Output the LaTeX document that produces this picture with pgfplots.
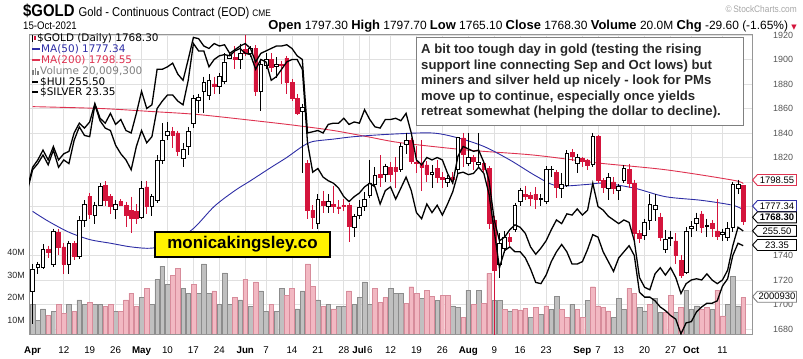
\documentclass[border=0pt]{standalone}
\usepackage{pgfplots}
\pgfplotsset{compat=1.18}
\usepackage{pgfplotstable}
\usepackage{fontspec}
\setmainfont{Liberation Sans}
\newfontfamily\dejavu{DejaVu Sans}
\newfontfamily\narrow[FakeStretch=0.88]{Liberation Sans}

\definecolor{cRed}{RGB}{212,20,60}
\definecolor{cMA200}{RGB}{222,50,80}
\definecolor{cMA50}{RGB}{45,45,165}
\definecolor{volG}{RGB}{192,192,192}
\definecolor{volGe}{RGB}{140,140,140}
\definecolor{volP}{RGB}{242,184,194}
\definecolor{volPe}{RGB}{215,140,155}
\definecolor{gridC}{RGB}{224,224,224}
\definecolor{frameC}{RGB}{150,150,150}
\definecolor{tickC}{RGB}{85,85,85}
\definecolor{boxC}{RGB}{128,128,128}
\definecolor{txtC}{RGB}{40,40,40}

\pgfplotsset{
  chartgeom/.style={at={(29bp,24bp)}, anchor=south west, scale only axis, width=723bp, height=300bp, xmin=-0.7, xmax=138.7},
  priceaxis/.style={chartgeom, ymin=1675.9, ymax=1920.8, hide axis},
  ebar/.style n args={2}{draw=none, no markers, error bars/.cd, y dir=minus, y explicit, error mark=none, error bar style={draw=#1, line width=#2}},
}

% daily OHLC, k = trading day from 1 Apr 2021
\pgfplotstableread{
k O H L C
0 1711 1733 1684 1729
1 1730 1735 1725 1733
2 1730 1749 1729 1745
3 1745 1748 1738 1743
4 1733 1762 1731 1760
5 1759 1762 1740 1747
6 1747 1750 1725 1733
7 1733 1752 1725 1750
8 1750 1752 1736 1739
9 1739 1772 1737 1769
10 1769 1785 1763 1782
11 1788 1791 1770 1774
12 1773 1784 1766 1781
13 1781 1799 1780 1796
14 1797 1801 1780 1785
15 1788 1790 1774 1780
16 1778 1785 1770 1782
17 1784 1786 1780 1781
18 1781 1784 1763 1773
19 1777 1788 1758 1770
20 1776 1782 1766 1770
21 1771 1801 1770 1795
22 1796 1801 1774 1780
23 1780 1790 1772 1788
24 1785 1822 1783 1818
25 1818 1848 1815 1834
26 1838 1849 1834 1841
27 1841 1845 1828 1838
28 1840 1842 1821 1825
29 1819 1832 1812 1827
30 1829 1845 1822 1841
31 1848 1871 1844 1868
32 1867 1872 1856 1869
33 1874 1886 1856 1881
34 1871 1888 1867 1883
35 1880 1886 1872 1878
36 1878 1889 1872 1886
37 1882 1905 1880 1898
38 1901 1906 1900 1903
39 1902 1911 1892 1900
40 1900 1913 1892 1905
41 1908 1920 1903 1905
42 1905 1911 1902 1909
43 1909 1912 1870 1874
44 1874 1900 1858 1896
45 1895 1905 1892 1900
46 1900 1905 1890 1894
47 1894 1902 1885 1896
48 1896 1899 1880 1895
49 1901 1903 1872 1881
50 1881 1884 1866 1868
51 1868 1872 1855 1856
52 1858 1864 1807 1861
53 1815 1818 1770 1777
54 1777 1781 1762 1771
55 1766 1790 1762 1786
56 1784 1793 1775 1781
57 1780 1790 1775 1784
58 1782 1797 1775 1780
59 1779 1785 1774 1778.5
60 1781 1786 1776 1780
61 1781 1783 1751 1764
62 1763 1774 1755 1772
63 1773 1785 1770 1779
64 1780 1792 1776 1786
65 1789 1818 1787 1799
66 1798 1812 1796 1805
67 1806 1822 1796 1804
68 1806 1815 1800 1813
69 1812 1816 1800 1806
70 1812 1820 1795 1809
71 1810 1832 1808 1829
72 1831 1840 1823 1834
73 1834 1836 1815 1817
74 1816 1829 1807 1815
75 1815 1834 1793 1812
76 1814 1817 1800 1806
77 1806 1814 1795 1808
78 1811 1818 1799 1804
79 1804 1808 1795 1802
80 1800 1806 1796 1803
81 1804 1808 1798 1802
82 1810 1837 1805 1836
83 1836 1840 1812 1823
84 1815 1840 1813 1820
85 1820 1822 1810 1817
86 1814 1840 1812 1816
87 1815 1818 1808 1810
88 1811 1813 1762 1766
89 1769 1772 1675 1728
90 1733 1758 1722 1750
91 1746 1760 1742 1755
92 1755 1758 1748 1752
93 1761 1783 1759 1781
94 1784 1795 1780 1793
95 1790 1797 1785 1788
96 1789 1792 1780 1787
97 1790 1796 1778 1786
98 1786 1790 1780 1787
99 1784 1813 1782 1810
100 1810 1813 1804 1810.5
101 1808 1810 1787 1796
102 1795 1807 1787 1798
103 1797 1826 1796 1823
104 1824 1827 1817 1821
105 1815 1823 1807 1820
106 1819 1820 1812 1817
107 1818 1819 1810 1814
108 1814 1840 1812 1837
109 1837 1838 1799 1801
110 1801 1803 1791 1796
111 1795 1807 1785 1804
112 1800 1804 1790 1795
113 1793 1798 1785 1796
114 1801 1814 1799 1811
115 1810 1815 1795 1799
116 1799 1802 1752 1758
117 1758 1761 1750 1754
118 1756 1770 1753 1767
119 1769 1790 1761 1782
120 1778 1790 1768 1781
121 1771 1775 1752 1755
122 1745 1761 1742 1753
123 1754 1760 1748 1755
124 1752 1758 1733 1740
125 1736 1740 1722 1724
126 1726 1763 1725 1760
127 1762 1768 1755 1764
128 1766 1775 1760 1770
129 1774 1776 1758 1763
130 1764 1770 1755 1764.5
131 1766 1769 1755 1762
132 1760 1786 1753 1756
133 1757 1762 1752 1759
134 1755 1767 1752 1762
135 1763 1800 1759 1798
136 1795 1802 1790 1797.9
137 1797.3 1797.7 1765.1 1768.3
}\gold

% volume in millions, u=1 up day (grey), u=0 down day (pink)
\pgfplotstableread{
k v u
0 17 1
1 10 1
2 15 1
3 12 0
4 14 1
5 17 0
6 13 0
7 17 1
8 14 0
9 19 1
10 17 1
11 18 0
12 17 1
13 17 1
14 16 0
15 17 0
16 14 1
17 14 0
18 19 0
19 22 0
20 16 0
21 20 1
22 24 0
23 17 1
24 28 1
25 34 1
26 26 1
27 30 0
28 33 0
29 24 1
30 22 1
31 26 0
32 22 1
33 35 1
34 22 1
35 23 0
36 17 1
37 31 1
38 17 1
39 20 0
40 19 1
41 28 0
42 16 1
43 27 0
44 23 1
45 14 1
46 17 0
47 14 1
48 24 1
49 21 0
50 24 0
51 15 1
52 23 1
53 35 0
54 25 0
55 19 1
56 16 0
57 17 1
58 15 0
59 16 1
60 16 1
61 23 0
62 17 1
63 20 1
64 27 1
65 17 1
66 24 0
67 18 0
68 20 0
69 24 1
70 22 1
71 21.9 1
72 17.4 0
73 24.8 0
74 21.9 0
75 19.6 1
76 23.3 0
77 20.4 0
78 18.9 1
79 21.1 0
80 21.1 0
81 16.3 1
82 15.6 1
83 11.1 0
84 23.3 1
85 17.0 0
86 23.3 1
87 17.4 0
88 30.7 0
89 18.9 1
90 18.9 1
91 14.8 0
92 14.1 1
93 14.8 0
94 14.5 0
95 15.1 0
96 11.1 1
97 15.6 0
98 12.6 1
99 16.3 0
100 14.8 1
101 20.4 1
102 14.8 0
103 11.1 0
104 17.0 1
105 14.8 0
106 11.1 0
107 18.9 1
108 24.8 0
109 16.3 0
110 15.6 0
111 14.1 0
112 11.1 1
113 19.6 1
114 14.8 1
115 24.1 0
116 21.9 0
117 15.6 1
118 14.1 1
119 17.0 0
120 19.6 1
121 13.3 1
122 13.3 0
123 21.1 0
124 13.3 1
125 15.6 0
126 23.3 1
127 14.8 1
128 16.3 1
129 14.8 0
130 15.6 0
131 14.8 1
132 23.3 0
133 11.9 0
134 17.0 1
135 29.3 1
136 16.3 1
137 20.0 0
}\vol

% overlays (HUI = A, SILVER = B) in price-scale units as drawn
\pgfplotstableread{
k A B
-1 1795 1793
0 1812 1810
1 1818 1815
2 1826 1822
3 1818 1814
4 1829 1826
5 1818 1812
6 1823 1818
7 1825 1815
8 1840 1834
9 1848 1845
10 1844 1838
11 1849 1837
12 1864 1863
13 1852 1850
14 1848 1844
15 1856 1842
16 1847 1830
17 1851 1823
18 1842 1818
19 1840 1810
20 1856 1829
21 1874 1842
22 1860 1832
23 1863 1837
24 1892 1860
25 1892 1866
26 1894 1871
27 1897 1871
28 1888 1866
29 1883 1863
30 1900 1883
31 1918 1913
32 1917 1907
33 1911 1907
34 1909 1894
35 1913 1900
36 1911 1903
37 1912 1904
38 1905 1903
39 1908 1907
40 1911 1909
41 1913 1905
42 1909 1904
43 1898 1892
44 1905 1900
45 1907 1898
46 1909 1883
47 1911 1886
48 1911 1892
49 1912 1898
50 1909 1900
51 1903 1900
52 1900 1892
53 1840 1832
54 1841 1808
55 1842 1811
56 1840 1804
57 1847 1801
58 1848 1799
59 1848 1795
60 1852 1788
61 1847 1784
62 1849 1788
63 1848 1791
64 1859 1796
65 1851 1799
66 1845 1796
67 1844 1782
68 1851 1793
69 1851 1796
70 1852 1786
71 1850 1795
72 1856 1804
73 1840 1793
74 1818 1775
75 1814 1770
76 1820 1782
77 1818 1775
78 1820 1781
79 1818 1773
80 1807 1782
81 1799 1792
82 1821 1807
83 1829 1808
84 1827 1806
85 1825 1807
86 1826 1812
87 1816 1807
88 1801 1790
89 1769 1760
90 1752 1730
91 1755 1744
92 1761 1747
93 1765 1743
94 1763 1743
95 1758 1738
96 1747 1729
97 1741 1718
98 1746 1717
99 1752 1724
100 1761 1735
101 1769 1743
102 1766 1749
103 1774 1743
104 1773 1733
105 1778 1733
106 1773 1735
107 1777 1745
108 1799 1757
109 1780 1755
110 1777 1743
111 1772 1735
112 1769 1727
113 1766 1738
114 1769 1743
115 1767 1748
116 1752 1740
117 1722 1710
118 1714 1706
119 1712 1706
120 1725 1703
121 1730 1698
122 1724 1695
123 1730 1691
124 1722 1688
125 1709 1676
126 1717 1685
127 1720 1686
128 1721 1694
129 1720 1698
130 1725 1701
131 1720 1701
132 1717 1703
133 1720 1715
134 1728 1721
135 1748 1740
136 1763 1750
137 1760 1748
}\lines

\pgfplotstableread{
k P
0 1776
3 1768
7 1759
11 1753
15 1750
19 1747
23 1746
27 1751
31 1762
35 1780
39 1793
42 1801
46 1812
49 1820
52 1829
54 1833
58 1835
62 1837
69 1839
77 1840
82 1836
87 1829
92 1818
97 1805
101 1797
107 1798
110 1799
116 1795
122 1788
129 1785
135 1781
137 1777.3
}\mafifty

\pgfplotstableread{
k P
0 1861.5
13 1860
23 1857.5
32 1855
45 1849
51 1846
58 1842
64.5 1837
71 1832
84 1826
96.5 1822
109 1815.5
122 1810
135 1801.5
137 1798.6
}\matwohundred

\newcommand{\pricetag}[4]{%
  \draw[draw=#2, fill=white, line width=0.9bp] (752.5,{358-#1}) -- (757.5,{358-#1+5.5}) -- (796.5,{358-#1+5.5}) -- (796.5,{358-#1-5.5}) -- (757.5,{358-#1-5.5}) -- cycle;
  \node[inner sep=0pt, font=\fontsize{9.5}{10}\selectfont#4] at (777,{358-#1}) {#3};}

\begin{document}
\begin{tikzpicture}[x=1bp,y=1bp]
\useasboundingbox (0,0) rectangle (803,358);

% grid and tick labels
\begin{axis}[chartgeom, ymin=1675.9, ymax=1920.8,
  axis line style={draw=none}, tick style={draw=none},
  grid=major, major grid style={draw=gridC, line width=0.7bp},
  xtick={0,6,11,16,21,26,31,36,41,45,50,55,60,63,65,69,74,79,84,89,94,99,106,109,113,118,123,127,133},
  xticklabels={\textbf{Apr},12,19,26,\textbf{May},10,17,24,\textbf{Jun},7,14,21,28,\textbf{Jul},6,12,19,26,\textbf{Aug},9,16,23,\textbf{Sep},7,13,20,27,\textbf{Oct},11},
  ytick={1680,1700,1720,1740,1760,1780,1800,1820,1840,1860,1880,1900,1920},
  yticklabels={1680,1700,1720,1740,,,,1820,1840,1860,1880,1900,1920},
  yticklabel pos=right,
  xticklabel style={font=\fontsize{9.8}{10}\selectfont, anchor=base, yshift=-19bp, inner sep=0pt},
  yticklabel style={font=\fontsize{9}{10}\selectfont, text=tickC, anchor=west, xshift=21bp, inner sep=0pt},
]
\addplot[draw=none, forget plot] coordinates {(0,1800)};
\end{axis}

% volume
\begin{axis}[chartgeom, ymin=3.8, ymax=137.1,
  axis line style={draw=none}, tick style={draw=none},
  xtick=\empty, ytick={10,20,30,40}, yticklabels={10M,20M,30M,40M},
  yticklabel style={font=\fontsize{9}{10}\selectfont, text=txtC, anchor=east, xshift=-4bp, inner sep=0pt},
  ybar, bar width=0.9]
\addplot[ybar, bar shift=0pt, fill=volG, draw=volGe, line width=0.4bp] table[x=k, y expr={\thisrow{v}*\thisrow{u}}]{\vol};
\addplot[ybar, bar shift=0pt, fill=volP, draw=volPe, line width=0.4bp] table[x=k, y expr={\thisrow{v}*(1-\thisrow{u})}]{\vol};
\end{axis}

% moving averages and wicks, plus frame
\begin{axis}[chartgeom, ymin=1675.9, ymax=1920.8,
  axis line style={draw=frameC, line width=0.8bp}, xtick=\empty, ytick=\empty]
\addplot[cMA200, line width=0.9bp, smooth, tension=0.5] table[x=k,y=P]{\matwohundred};
\addplot[cMA50, line width=0.9bp, smooth, tension=0.5] table[x=k,y=P]{\mafifty};
\addplot[ebar={cRed}{0.9bp}] table[x=k, y=H, y error expr={(\thisrow{C}<\thisrow{O})*(\thisrow{H}-\thisrow{L})}] {\gold};
\addplot[ebar={black}{0.9bp}] table[x=k, y=H, y error expr={(1-(\thisrow{C}<\thisrow{O}))*(\thisrow{H}-\thisrow{L})}] {\gold};
\end{axis}

% red (falling) bodies
\begin{axis}[priceaxis, ybar stacked, bar width=0.72]
\addplot[draw=none, fill=none] table[x=k, y expr={(\thisrow{C}<\thisrow{O})*\thisrow{C}}] {\gold};
\addplot[fill=cRed, draw=cRed, line width=0.5bp] table[x=k, y expr={(\thisrow{C}<\thisrow{O})*(\thisrow{O}-\thisrow{C})}] {\gold};
\end{axis}

% hollow (rising) bodies
\begin{axis}[priceaxis, ybar stacked, bar width=0.72]
\addplot[draw=none, fill=none] table[x=k, y expr={(1-(\thisrow{C}<\thisrow{O}))*\thisrow{O}}] {\gold};
\addplot[fill=white, draw=black, line width=0.75bp] table[x=k, y expr={(1-(\thisrow{C}<\thisrow{O}))*max(\thisrow{C}-\thisrow{O},0.4)}] {\gold};
\end{axis}

% HUI and SILVER overlays
\begin{axis}[priceaxis]
\addplot[black, line width=1.3bp] table[x=k,y=B]{\lines};
\addplot[black, line width=1.3bp] table[x=k,y=A]{\lines};
\end{axis}

% header
\node[anchor=base west, inner sep=0pt] at (23,{358-16}) {{\narrow\bfseries\fontsize{17}{17}\selectfont \$GOLD}\hspace{4bp}{\narrow\fontsize{12.8}{13}\selectfont Gold - Continuous Contract (EOD)}\hspace{3bp}{\narrow\fontsize{9.5}{9.5}\selectfont CME}};
\node[anchor=base east, inner sep=0pt, text=black!35, font=\narrow\fontsize{9.5}{10}\selectfont] at (797,{358-12.5}) {\textcopyright\,StockCharts.com};
\node[anchor=base west, inner sep=0pt, font=\narrow\fontsize{11}{11}\selectfont] at (23,{358-29.5}) {15-Oct-2021};
\node[anchor=base east, inner sep=0pt, font=\fontsize{12}{12.5}\selectfont] at (797,{358-29.5}) {{\bfseries\fontsize{13}{13}\selectfont Open} 1797.30 {\bfseries\fontsize{13}{13}\selectfont High} 1797.70 {\bfseries\fontsize{13}{13}\selectfont Low} 1765.10 {\bfseries\fontsize{13}{13}\selectfont Close} 1768.30 {\bfseries\fontsize{13}{13}\selectfont Volume} 20.0M {\bfseries\fontsize{13}{13}\selectfont Chg} -29.60 (-1.65\%) {\dejavu\fontsize{7}{7}\selectfont\textcolor{cRed}{▼}}};

% legend
\begin{scope}[font=\dejavu\fontsize{10.5}{11}\selectfont]
\fill[black] (31.5,{358-41}) rectangle (33,{358-36}); \draw[black,line width=0.5bp] (32.25,{358-42}) -- (32.25,{358-35});
\draw[cRed,line width=1.3bp] (35,{358-40}) -- (35,{358-36});
\node[anchor=base west, inner sep=0pt] at (37,{358-41.5}) {\$GOLD (Daily) 1768.30};
\draw[cMA50, line width=1.5bp] (32,{358-49}) -- (40,{358-49});
\node[anchor=base west, inner sep=0pt, text=cMA50] at (41,{358-52.5}) {MA(50) 1777.34};
\draw[cMA200, line width=1.5bp] (32,{358-60}) -- (40,{358-60});
\node[anchor=base west, inner sep=0pt, text=cMA200] at (41,{358-63.5}) {MA(200) 1798.55};
\fill[gray] (32,{358-75}) rectangle (33.5,{358-70}); \fill[gray] (34.5,{358-75}) rectangle (36,{358-68}); \fill[gray] (37,{358-75}) rectangle (38.5,{358-71});
\node[anchor=base west, inner sep=0pt, text=gray] at (40,{358-74.5}) {Volume 20,009,300};
\draw[black, line width=2bp] (32,{358-81.5}) -- (38,{358-81.5});
\node[anchor=base west, inner sep=0pt] at (40,{358-85}) {\$HUI 255.50};
\draw[black, line width=2bp] (32,{358-92}) -- (38,{358-92});
\node[anchor=base west, inner sep=0pt] at (40,{358-95.5}) {\$SILVER 23.35};
\end{scope}

% comment box
\draw[draw=boxC, fill=white, line width=1bp] (416,{358-37.5}) rectangle (743,{358-125});
\begin{scope}[font=\bfseries\fontsize{13.2}{13}\selectfont, text=txtC]
\node[anchor=base west, inner sep=0pt] at (421,{358-53.5}) {A bit too tough day in gold (testing the rising};
\node[anchor=base west, inner sep=0pt] at (421,{358-69}) {support line connecting Sep and Oct lows) but};
\node[anchor=base west, inner sep=0pt] at (421,{358-84.5}) {miners and silver held up nicely - look for PMs};
\node[anchor=base west, inner sep=0pt] at (421,{358-100}) {move up to continue, especially once yields};
\node[anchor=base west, inner sep=0pt] at (421,{358-115.5}) {retreat somewhat (helping the dollar to decline).};
\end{scope}

% watermark box
\node[fill=yellow, draw=black, line width=1.3bp, inner sep=0pt, minimum width=175bp, minimum height=25bp, font=\bfseries\fontsize{17}{17}\selectfont] at (242.5,{358-244.5}) {monicakingsley.co};

% right-hand value tags
\pricetag{180}{cMA200}{1798.55}{}
\pricetag{206}{cMA50}{1777.34}{}
\pricetag{217.3}{black}{1768.30}{\bfseries}
\pricetag{230.8}{black}{255.50}{}
\pricetag{245}{black}{23.35}{}
\pricetag{296.7}{gray}{2000930}{}
\end{tikzpicture}
\end{document}
